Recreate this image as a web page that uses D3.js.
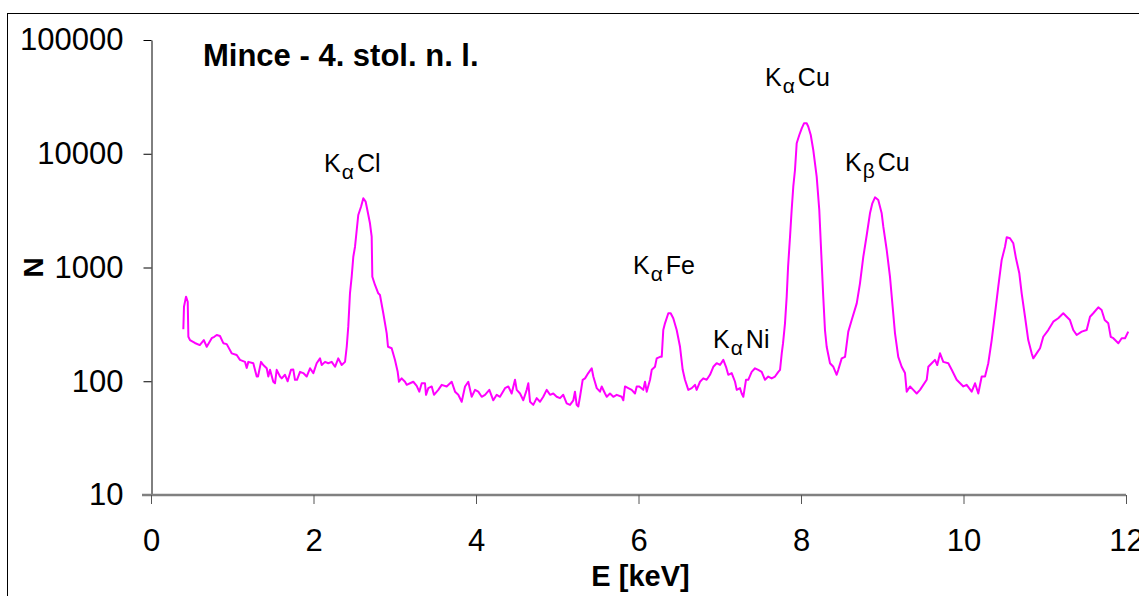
<!DOCTYPE html>
<html>
<head>
<meta charset="utf-8">
<script src="https://cdn.jsdelivr.net/npm/d3@7"></script>
<style>
  html, body { margin: 0; padding: 0; background: #ffffff; }
  svg { display: block; }
  text { font-family: "Liberation Sans", Arial, sans-serif; }
</style>
</head>
<body>
<svg id="chart" width="1139" height="596"></svg>
<script>
// ---- data ----
const energy = [
  0.398,0.406,0.431,0.452,0.46,0.48,0.54,0.60,0.65,0.686,
  0.747,0.779,0.809,0.849,0.89,0.932,0.993,1.055,1.095,1.157,
  1.178,1.198,1.259,1.301,1.317,1.354,1.382,1.424,1.444,1.465,
  1.505,1.526,1.547,1.588,1.609,1.649,1.682,1.723,1.751,1.772,
  1.797,1.834,1.874,1.916,1.957,1.998,2.039,2.080,2.101,2.142,
  2.182,2.224,2.265,2.305,2.347,2.388,2.409,2.428,2.449,2.470,
  2.490,2.511,2.532,2.551,2.585,2.613,2.642,2.667,2.695,2.716,
  2.724,2.757,2.797,2.818,2.859,2.901,2.917,2.962,3.003,3.036,
  3.052,3.085,3.126,3.147,3.188,3.228,3.27,3.302,3.332,3.372,
  3.385,3.413,3.455,3.483,3.536,3.578,3.639,3.701,3.742,3.782,
  3.824,3.865,3.905,3.947,3.988,4.028,4.07,4.111,4.164,4.213,
  4.255,4.295,4.357,4.398,4.439,4.48,4.501,4.542,4.582,4.624,
  4.644,4.665,4.705,4.747,4.788,4.828,4.87,4.911,4.951,4.993,
  5.034,5.074,5.116,5.157,5.198,5.218,5.239,5.259,5.28,5.313,
  5.342,5.382,5.424,5.444,5.486,5.526,5.547,5.588,5.609,5.649,
  5.69,5.732,5.793,5.813,5.834,5.874,5.916,5.957,5.978,6.01,
  6.059,6.08,6.101,6.142,6.163,6.203,6.224,6.265,6.286,6.305,
  6.326,6.367,6.396,6.428,6.47,6.511,6.544,6.572,6.613,6.655,
  6.695,6.716,6.757,6.797,6.839,6.880,6.921,6.962,7.003,7.044,
  7.077,7.105,7.147,7.188,7.209,7.249,7.27,7.29,7.323,7.351,
  7.393,7.434,7.474,7.516,7.557,7.597,7.639,7.68,7.721,7.742,
  7.763,7.779,7.803,7.824,7.841,7.865,7.885,7.905,7.926,7.947,
  7.979,8.009,8.037,8.070,8.09,8.12,8.151,8.193,8.225,8.255,
  8.274,8.295,8.316,8.357,8.398,8.439,8.459,8.501,8.542,8.582,
  8.624,8.686,8.726,8.767,8.809,8.849,8.878,8.911,8.951,8.993,
  9.013,9.055,9.095,9.128,9.157,9.197,9.239,9.28,9.301,9.342,
  9.382,9.424,9.465,9.547,9.567,9.609,9.649,9.677,9.711,9.751,
  9.813,9.855,9.916,9.998,10.039,10.101,10.142,10.182,10.224,10.265,
  10.305,10.347,10.388,10.428,10.47,10.511,10.532,10.572,10.613,10.646,
  10.687,10.716,10.757,10.797,10.839,10.859,10.9,10.942,10.982,11.043,
  11.105,11.166,11.228,11.27,11.31,11.351,11.393,11.455,11.516,11.557,
  11.597,11.659,11.70,11.738,11.782,11.812,11.844,11.906,11.947,11.988,12.028
];
const counts = [
  286,452,554,500,246,230,217,208,230,201,
  239,246,255,250,216,212,176,170,154,148,
  131,148,144,110,110,148,139,130,110,126,
  99,96,126,110,106,114,100,126,127,103,
  103,121,118,110,130,118,144,159,139,148,
  144,148,134,159,139,148,201,302,593,830,
  1244,1523,2136,2894,3423,4059,3789,3094,2446,1866,
  830,702,593,573,396,264,201,195,154,121,
  99,106,99,93,96,99,91,81,96,96,
  76,87,90,76,84,93,90,99,81,76,
  66,90,99,73,84,81,73,76,84,68,
  76,73,87,90,78,103,84,78,68,84,
  96,66,62,71,66,73,84,76,78,73,
  71,76,64,62,68,81,62,60,73,103,
  106,118,130,110,87,81,90,78,73,78,
  73,76,73,68,90,87,84,78,90,90,
  84,99,81,103,126,134,159,164,164,282,
  323,396,396,358,282,201,126,103,84,87,
  93,84,99,106,103,114,134,144,139,154,
  134,114,118,99,84,87,78,73,103,103,
  121,130,126,121,103,110,106,110,121,126,
  176,216,323,554,1016,1866,3203,5131,7195,12360,
  14610,16740,18520,18520,17290,14610,10790,6285,3203,1089,
  554,282,201,144,134,114,126,159,164,273,
  345,484,726,1244,1931,2996,3668,4141,3922,2996,
  2284,1425,830,452,264,164,134,118,81,90,
  84,78,84,103,134,144,154,139,176,148,
  144,126,103,90,93,81,96,78,110,110,
  144,230,396,678,1164,1523,1843,1806,1632,1204,
  889,593,369,230,176,159,176,195,246,282,
  334,358,396,369,345,282,255,273,282,369,
  396,447,423,345,323,246,239,216,239,239,273
];
const xTicks = [0, 2, 4, 6, 8, 10, 12];
const yTicks = [10, 100, 1000, 10000, 100000];
const peakLabels = [
  { base: "K", sub: "α", rest: "Cl", e: 2.13, n: 6900 },
  { base: "K", sub: "α", rest: "Cu", e: 7.557, n: 39400 },
  { base: "K", sub: "β", rest: "Cu", e: 8.542, n: 7050 },
  { base: "K", sub: "α", rest: "Fe", e: 5.932, n: 877 },
  { base: "K", sub: "α", rest: "Ni", e: 6.917, n: 196 }
];
const title = "Mince - 4. stol. n. l.";
const xTitle = "E [keV]";
const yTitle = "N";

// ---- layout ----
(function () {
const svg = d3.select("#chart");
const mLeft = 151, mRight = 1126, mTop = 40, mBottom = 495;

svg.append("rect").attr("x", 0).attr("y", 0).attr("width", 1139).attr("height", 596).attr("fill", "#fff");
// outer chart border (cut off on right/bottom like the reference)
svg.append("rect").attr("x", 7.5).attr("y", 13.5).attr("width", 1300).attr("height", 700)
  .attr("fill", "none").attr("stroke", "#000").attr("stroke-width", 1);

const x = d3.scaleLinear().domain([0, 12]).range([mLeft, mRight]);
const y = d3.scaleLog().domain([10, 100000]).range([mBottom, mTop]);

// y axis
const yAxis = svg.append("g").attr("transform", `translate(${mLeft + 0.5},0)`)
  .call(d3.axisLeft(y).tickValues(yTicks).tickFormat(d => String(d)).tickSize(8).tickSizeOuter(0).tickPadding(20));
yAxis.select(".domain").attr("stroke", "#000").attr("stroke-width", 1);
yAxis.selectAll(".tick line").attr("stroke", "#000");
yAxis.selectAll(".tick text").attr("font-size", 31).attr("fill", "#000")
  .style("font-family", "'Liberation Sans', Arial, sans-serif");

// x axis
const xAxis = svg.append("g").attr("transform", `translate(0,${mBottom})`)
  .call(d3.axisBottom(x).tickValues(xTicks).tickFormat(d => String(d)).tickSize(9).tickSizeOuter(0).tickPadding(25));
xAxis.select(".domain").attr("stroke", "#808080").attr("stroke-width", 2.5)
  .attr("d", `M${mLeft - 9},0H${mRight}`);
xAxis.selectAll(".tick line").attr("stroke", "#555");
xAxis.selectAll(".tick text").attr("font-size", 31).attr("fill", "#000")
  .style("font-family", "'Liberation Sans', Arial, sans-serif");

// spectrum line
const pts = energy.map((e, i) => [e, counts[i]]);
const line = d3.line().x(d => x(d[0])).y(d => y(d[1]));
svg.append("path").datum(pts).attr("d", line)
  .attr("fill", "none").attr("stroke", "#FF00FF").attr("stroke-width", 2)
  .attr("stroke-linejoin", "round");

// peak labels
peakLabels.forEach(p => {
  const t = svg.append("text").attr("x", x(p.e)).attr("y", y(p.n))
    .attr("font-size", 25).attr("fill", "#000");
  t.append("tspan").text(p.base);
  t.append("tspan").text(p.sub).attr("font-size", 21).attr("dy", 7).attr("dx", 1);
  t.append("tspan").text(p.rest).attr("dy", -7).attr("dx", 3);
});

// title
svg.append("text").attr("x", 203).attr("y", 66).attr("font-size", 31)
  .attr("font-weight", "bold").attr("fill", "#000").text(title);

// axis titles
svg.append("text").attr("x", (mLeft + mRight) / 2 + 2).attr("y", 586).attr("text-anchor", "middle")
  .attr("font-size", 29).attr("font-weight", "bold").attr("fill", "#000").text(xTitle);
svg.append("text").attr("transform", `translate(43,${(mTop + mBottom) / 2}) rotate(-90)`)
  .attr("text-anchor", "middle").attr("font-size", 28).attr("font-weight", "bold")
  .attr("fill", "#000").text(yTitle);
})();
</script>
</body>
</html>
